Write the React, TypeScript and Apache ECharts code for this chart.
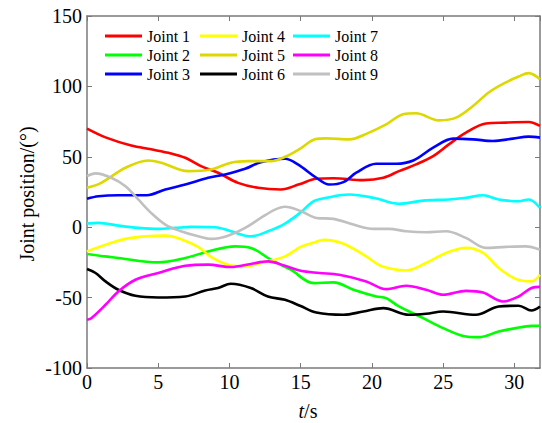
import React, { useEffect, useRef } from "react";
import * as echarts from "echarts";

const seriesNames = ["Joint 1", "Joint 2", "Joint 3", "Joint 4", "Joint 5", "Joint 6", "Joint 7", "Joint 8", "Joint 9"];
const seriesColors = ["#ff0000", "#00ff00", "#0000ff", "#ffff00", "#dcd800", "#000000", "#00ffff", "#ff00ff", "#c0c0c0"];

const xTicks = [0, 5, 10, 15, 20, 25, 30];
const yTicks = [-100, -50, 0, 50, 100, 150];

const joint1: [number, number][] = [[0,70],[1.3,63.8],[3.1,58],[4.5,55.3],[5.9,52.4],[6.9,49.3],[8,43.4],[9.2,38.7],[10.6,31.5],[12,28],[13.6,26.8],[14.9,30.5],[16.1,34.4],[17.3,34.8],[19.4,33.4],[20.8,35.1],[21.9,39.8],[23.1,44.6],[24.3,50.5],[25.4,58.8],[26.6,67.1],[28,73.6],[29.4,74.3],[31,74.7],[31.8,71.9]];
const joint2: [number, number][] = [[0,-19],[2.2,-21.9],[5,-25],[6.9,-21.9],[8.5,-17.2],[10.4,-13.6],[11.5,-14.7],[12.9,-23.1],[14.3,-30.2],[15.9,-39.7],[17.3,-39.2],[18.7,-44.4],[20.3,-49.2],[21,-50.4],[21.9,-56.3],[23.6,-64.6],[25,-71.7],[26.4,-77.2],[27.5,-78.1],[28.9,-74.1],[30.1,-71.7],[31.2,-70.1],[31.8,-70]];
const joint3: [number, number][] = [[0,20.2],[0.8,22],[2.2,22.7],[4.2,22.7],[5.5,26.8],[6.9,30.3],[8.5,35.1],[9.7,37.5],[11.1,41.5],[12.2,46.2],[13.9,48.6],[14.8,44.6],[16.1,35.1],[17,30.3],[18,32],[18.9,38.7],[20.3,45.1],[21.7,45.1],[22.9,47.4],[24.3,56.5],[25.7,62.9],[27.1,62.4],[28.5,61.2],[29.9,62.9],[31,64.3],[31.8,63.6]];
const joint4: [number, number][] = [[0,-17.2],[1.3,-12.4],[2.7,-8.3],[4.1,-6.5],[5.5,-6],[6.6,-8.5],[7.8,-14],[8.7,-21],[9.9,-26.6],[11.1,-27.8],[12.2,-25.4],[13.9,-20.7],[15,-14],[16,-10.7],[16.6,-9],[18,-11.7],[19.6,-20.7],[20.7,-27.8],[22.4,-30.7],[23.8,-25.4],[25.2,-18.3],[26.6,-14.7],[27.8,-18.3],[28.9,-29],[30.1,-36.8],[31.2,-38.5],[31.8,-33.8]];
const joint5: [number, number][] = [[0,28],[1,31.5],[2.7,42.2],[4.3,47.4],[5.2,45.8],[7.1,39.8],[8.7,41],[10.1,45.8],[11.3,46.9],[12.9,46.9],[13.9,50],[15,56],[16,62.4],[16.8,63.1],[18.4,62.4],[19.8,67.2],[21,73],[22.2,80.2],[23.1,80.9],[24.7,75.9],[25.9,77.8],[27.1,86.1],[28.2,95.7],[29.4,102.8],[30.3,107],[31,109.4],[31.8,105.1]];
const joint6: [number, number][] = [[0,-29.7],[0.6,-32.5],[1.3,-38.5],[2.2,-44.4],[3.4,-48.7],[5,-49.9],[6.9,-49.2],[8.3,-44.9],[9.2,-43.2],[10.1,-40.2],[11.5,-43.2],[12.7,-49.2],[13.9,-51.6],[15,-56],[16.1,-60.6],[18,-62.2],[19.4,-59.9],[20.8,-57.5],[22.6,-62.2],[23.8,-61.5],[25,-59.9],[27.3,-62.2],[28.9,-56.3],[30.3,-55.8],[31.2,-59.2],[31.8,-56.3]];
const joint7: [number, number][] = [[0,2.6],[0.8,3.1],[2.2,1.1],[3.6,-0.5],[5,-1.2],[6.2,-0.5],[7.3,0.2],[9,0],[10.1,-2.9],[11.5,-6.5],[12.7,-2.9],[13.9,2.6],[15,10.5],[15.9,18.4],[16.8,20.9],[18.4,23.2],[20.1,20.9],[21.9,16.6],[23.6,18.9],[25.4,19.7],[26.6,20.9],[27.8,22.7],[28.9,19.7],[30.3,18.4],[31,19.7],[31.8,13.7]];
const joint8: [number, number][] = [[0,-65.8],[0.3,-64.6],[1.3,-55.1],[2.2,-45.6],[3.4,-37.3],[5,-32.5],[6.9,-27.4],[8.5,-26.6],[10.1,-28.3],[11.5,-26.1],[12.7,-24.3],[13.9,-27.4],[15,-31],[16.3,-32.5],[17.7,-33.8],[19.6,-38.5],[21,-44],[22.4,-41.6],[23.8,-44.4],[25,-48],[26.6,-45.2],[27.8,-46.4],[29.2,-52.8],[30.3,-49.2],[31.2,-43.2],[31.8,-42.4]];
const joint9: [number, number][] = [[0,36.3],[0.6,38.2],[1.7,35.1],[2.7,29.1],[3.6,19.7],[4.5,10.2],[5.5,1.9],[6.6,-2.9],[7.8,-6.5],[8.7,-8.3],[9.9,-6],[11.1,-0.5],[12.2,6.6],[13.2,12.5],[13.9,14.5],[15,11.5],[16.1,6.6],[17.3,5.9],[18.7,1.9],[20.1,-1.2],[21.2,-1.2],[22.4,-2.9],[23.8,-3.6],[25.2,-2.9],[26.6,-7.6],[28,-14.7],[29.4,-14],[30.8,-13.6],[31.8,-16]];

const allData = [joint1, joint2, joint3, joint4, joint5, joint6, joint7, joint8, joint9];

const FONT = "'Liberation Serif', 'Times New Roman', serif";
const AXIS_COLOR = "#7a7a7a";

export default function App() {
  const ref = useRef<HTMLDivElement>(null);
  useEffect(() => {
    if (!ref.current) return;
    const chart = echarts.init(ref.current, undefined, { renderer: "svg" });
    const xMin = xTicks[0];
    const xMax = 31.8;
    const yMin = yTicks[0];
    const yMax = yTicks[yTicks.length - 1];
    const tickCommon = { show: true, inside: true, length: 5, lineStyle: { color: AXIS_COLOR, width: 1 } };
    const lineCommon = { show: true, onZero: false, lineStyle: { color: AXIS_COLOR, width: 1.5 } };
    const legendCommon = {
      orient: "vertical" as const,
      icon: "rect",
      itemWidth: 37,
      itemHeight: 3,
      itemGap: 3,
      padding: 0,
      top: 28,
      textStyle: { fontFamily: FONT, fontSize: 16, color: "#000", lineHeight: 16 },
    };
    chart.setOption({
      animation: false,
      backgroundColor: "#fff",
      grid: { left: 87, right: 2, top: 16, bottom: 55, containLabel: false },
      legend: [
        { ...legendCommon, left: 105, data: seriesNames.slice(0, 3) },
        { ...legendCommon, left: 200, data: seriesNames.slice(3, 6) },
        { ...legendCommon, left: 293, data: seriesNames.slice(6, 9) },
      ],
      xAxis: [
        {
          type: "value", min: xMin, max: xMax, interval: 5, position: "bottom",
          axisLine: lineCommon, axisTick: tickCommon, splitLine: { show: false },
          axisLabel: { fontFamily: FONT, fontSize: 20, color: "#000", margin: 4, showMaxLabel: false,
            formatter: (v: number) => (xTicks.includes(v) ? String(v) : "") },
        },
        {
          type: "value", min: xMin, max: xMax, interval: 5, position: "top",
          axisLine: lineCommon, axisTick: tickCommon, splitLine: { show: false }, axisLabel: { show: false },
        },
      ],
      yAxis: [
        {
          type: "value", min: yMin, max: yMax, interval: 50, position: "left",
          axisLine: lineCommon, axisTick: tickCommon, splitLine: { show: false },
          axisLabel: { fontFamily: FONT, fontSize: 20, color: "#000", margin: 5 },
        },
        {
          type: "value", min: yMin, max: yMax, interval: 50, position: "right",
          axisLine: lineCommon, axisTick: tickCommon, splitLine: { show: false }, axisLabel: { show: false },
        },
      ],
      graphic: [
        {
          type: "text", x: 27, y: 194, rotation: Math.PI / 2,
          style: { text: "Joint position/(°)", fontFamily: FONT, fontSize: 20, fill: "#000", textAlign: "center", textVerticalAlign: "middle" },
        },
        {
          type: "text", x: 308, y: 411,
          style: {
            text: "{i|t}/s", fontFamily: FONT, fontSize: 20, fill: "#000", textAlign: "center", textVerticalAlign: "middle",
            rich: { i: { fontFamily: FONT, fontSize: 20, fontStyle: "italic", fill: "#000" } },
          },
        },
      ],
      series: allData.map((d, i) => ({
        name: seriesNames[i],
        type: "line",
        data: d,
        smooth: 0.35,
        showSymbol: false,
        symbol: "none",
        color: seriesColors[i],
        lineStyle: { color: seriesColors[i], width: 2.6 },
        xAxisIndex: 0,
        yAxisIndex: 0,
      })),
    });
    return () => chart.dispose();
  }, []);
  return <div ref={ref} style={{ width: 542, height: 423, position: "absolute", left: 0, top: 0 }} />;
}
